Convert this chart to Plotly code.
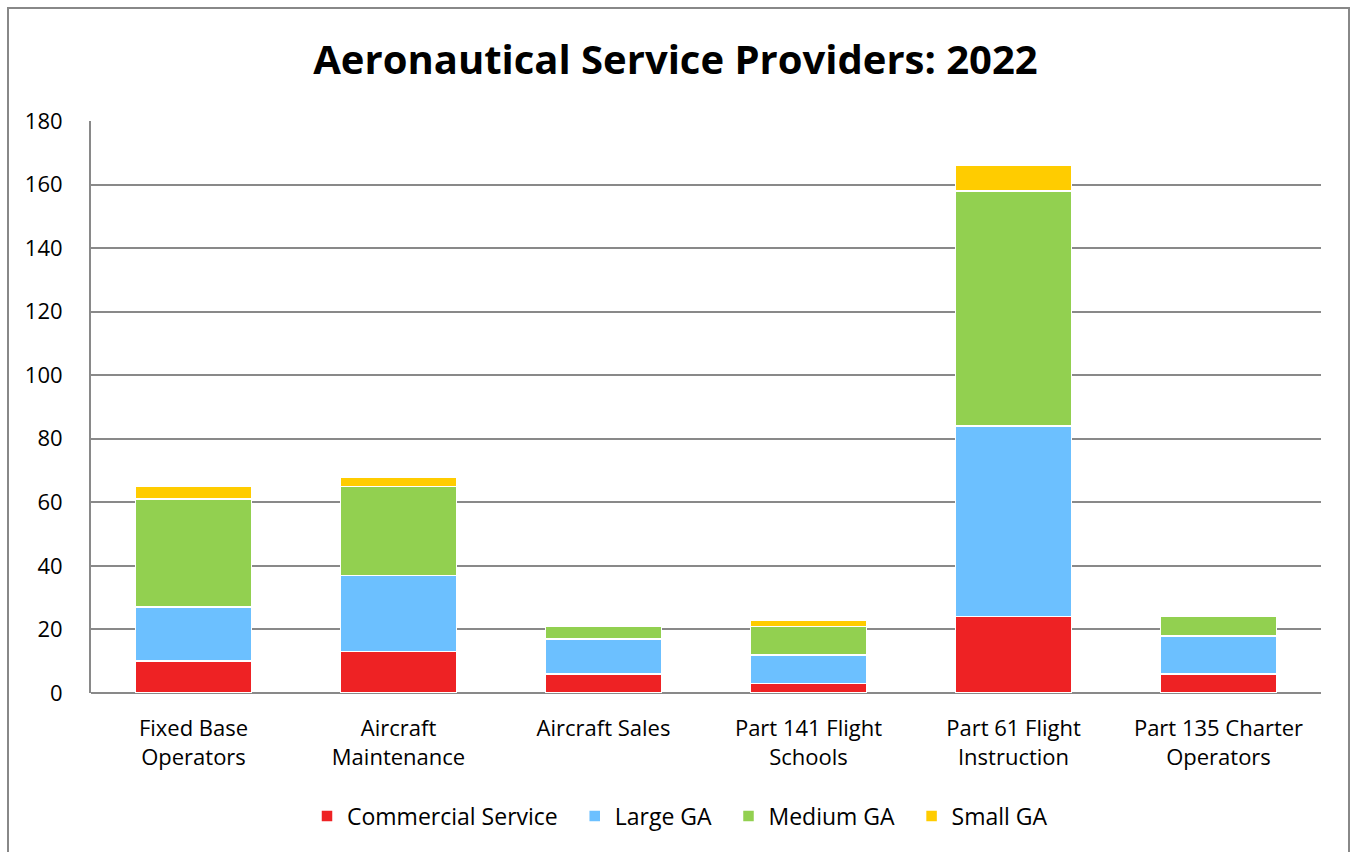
import plotly.graph_objects as go

categories = ["Fixed Base<br>Operators", "Aircraft<br>Maintenance", "Aircraft Sales",
              "Part 141 Flight<br>Schools", "Part 61 Flight<br>Instruction", "Part 135 Charter<br>Operators"]
commercial = [10, 13, 6, 3, 24, 6]
large_ga = [17, 24, 11, 9, 60, 12]
medium_ga = [34, 28, 4, 9, 74, 6]
small_ga = [4, 3, 0, 2, 8, 0]

series = [
    ("Commercial Service", commercial, "#EE2224"),
    ("Large GA", large_ga, "#6CC0FF"),
    ("Medium GA", medium_ga, "#92D050"),
    ("Small GA", small_ga, "#FFCC00"),
]

FONT = "Open Sans"
fig = go.Figure()
for name, vals, col in series:
    fig.add_trace(go.Bar(
        x=categories, y=vals, name=name + "  ",
        marker=dict(color=col, line=dict(color="white", width=1.5)),
    ))

W, H = 1351, 852
L, R, T, B = 91, 30, 121, 159
pw, ph = W - L - R, H - T - B

def px(x):
    return (x - L) / pw

def py(y):
    return (H - B - y) / ph

fig.update_layout(
    width=W, height=H,
    barmode="stack",
    bargap=0.435,
    plot_bgcolor="white", paper_bgcolor="white",
    margin=dict(l=L, r=R, t=T, b=B),
    title=dict(text="<b>Aeronautical Service Providers: 2022</b>", x=0.5, xanchor="center",
               y=1 - 60 / H, yanchor="middle",
               font=dict(family=FONT, size=40, color="black")),
    font=dict(family=FONT, size=22, color="black"),
    legend=dict(orientation="h", x=px(686), xanchor="center", y=py(816), yanchor="middle",
                font=dict(family=FONT, size=23, color="black"), traceorder="normal",
                itemwidth=30),
    xaxis=dict(showgrid=False, showline=False, ticks="", tickfont=dict(size=22),
               ticklabelstandoff=20),
    yaxis=dict(range=[0, 180], dtick=20, showgrid=True, gridcolor="#898989", gridwidth=2,
               zeroline=True, zerolinecolor="#898989", zerolinewidth=2,
               showline=True, linecolor="#898989", linewidth=2,
               ticks="", tickfont=dict(size=22), ticklabelstandoff=22),
    shapes=[dict(type="rect", xref="paper", yref="paper",
                 x0=px(8), x1=px(1349), y0=py(870), y1=py(8),
                 line=dict(color="#888888", width=2), layer="below")],
)

fig.write_html("out.html")
